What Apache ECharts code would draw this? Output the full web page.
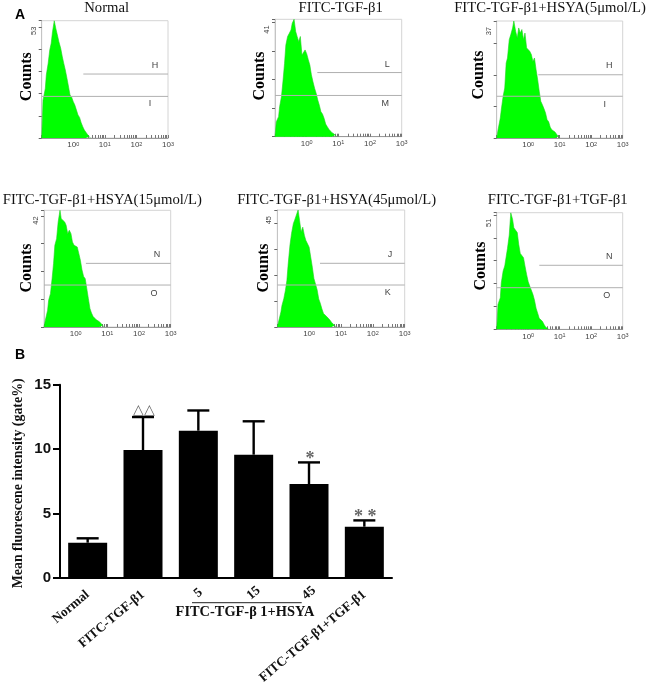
<!DOCTYPE html>
<html><head><meta charset="utf-8">
<style>html,body{margin:0;padding:0;background:#fff}#c{width:666px;height:690px}</style>
<script src="https://cdn.jsdelivr.net/npm/echarts@6/dist/echarts.min.js"></script>
</head><body><div id="c"></div>
<script>
// ---------- data ----------
const bins = [0.10,0.11,0.13,0.14,0.16,0.18,0.20,0.22,0.25,0.28,0.32,0.35,0.40,0.45,0.50,0.56,0.63,0.71,0.79,0.89,1.00,1.12,1.26,1.41,1.58,1.78,2.00,2.24,2.51,2.82,3.16,3.55,3.98,4.47,5.01,5.62,6.31,7.08,7.94,8.91,10.0];
const countsNormal = [0,17,22.4,28.5,33.7,39.8,42.8,48,53,49.5,46,43.5,40.5,36.7,33.7,30.7,27,23,19.4,18.4,16.4,14.9,12.6,10.4,9.3,6.9,5.1,3.6,2.6,1.7,0.6,0];
const countsTgf = [0,5.2,7,10.5,14,19.8,25.6,32,35,36,37.3,39.6,41,36.7,35,33.2,35,28.5,29,30.3,29,27,25,21.6,19.2,16.9,15.1,12.8,11,8.7,7.9,6.4,4.4,3.5,2.6,2.1,1.4,0.8,0.6,0];
const countsHsya5 = [0,2.5,6.3,9,13.2,15.8,23.7,25.3,31.1,32.7,34.8,37,33.7,31.6,34.8,33.2,34.3,31.1,33.2,28.5,29,27.4,26.4,24.2,25.3,21.6,18.4,14.8,11.6,10.5,9.3,7.9,5.8,5.1,3.4,2.6,3,1.9,1.5,0.5,0];
const countsHsya15 = [0,2.4,6,9.6,12,17.4,22.8,29.4,31.8,37.8,42,39,38.4,37.8,36.6,33.6,34.8,33.6,30.6,29.4,29.8,28.8,26.4,24,20.6,18.2,17.4,13.9,10.3,6.7,5,3.8,3.1,2.6,2.5,1.9,1.2,0.6,0];
const countsHsya45 = [0,0.6,5.8,8.3,10.9,14.1,17.9,24.3,31.5,36,39.8,41.1,41.7,45,41,36.5,38.4,35.2,33.3,32,30.7,26.9,23,18.7,18.7,14.3,10.8,9.1,7,5.2,5.2,4,3.3,2.7,1.8,1.4,0.6,0];
const countsTgfBlock = [0,10.9,13.8,20.4,25.5,27.7,28.1,35.4,41.2,51,48,44.4,44,42.3,37.2,33.2,32.5,31.3,27.7,24,20.8,18.9,18.9,15.3,12.8,9.2,7,4.8,4.1,3.5,2.2,1,0.3,0];
const decadeLabels = [1,10,100,1000];
const minorTicks = [0.1,0.2,0.3,0.4,0.5,0.6,0.7,0.8,0.9,1,2,3,4,5,6,7,8,9,10,20,30,40,50,60,70,80,90,100,200,300,400,500,600,700,800,900,1000];

const barCategories = ['Normal','FITC-TGF-β1','5','15','45','FITC-TGF-β1+TGF-β1'];
const barMeans = [2.74,9.93,11.43,9.57,7.29,3.98];
const barErrorTops = [3.08,12.49,13.0,12.16,8.97,4.47];
const barMarks = ['','△△','','','*','* *'];

// ---------- panel layout ----------
const panels = [
 {title:'Normal',tx:106.7,ty:8,box:[41.7,20.7,126.3,117.3],max:53,counts:countsNormal,hi:28.9,lo:18.8,start:2.08,cx:26.7,cy:76.7,letters:[['H',155,65.7],['I',150,104]]},
 {title:'FITC-TGF-β1',tx:340.7,ty:8,box:[275,19.3,126.7,117.4],max:41,counts:countsTgf,hi:22.4,lo:14.4,start:2.17,cx:260,cy:76,letters:[['L',387.3,64.3],['M',385.3,103.3]]},
 {title:'FITC-TGF-β1+HSYA(5μmol/L)',tx:550,ty:8.5,box:[496.7,21,126,117],max:37,counts:countsHsya5,hi:20,lo:13.2,start:2.09,cx:479.3,cy:75,letters:[['H',609.3,66],['I',604.7,104.3]]},
 {title:'FITC-TGF-β1+HSYA(15μmol/L)',tx:102.3,ty:199.7,box:[44,210.3,126.7,116.7],max:42,counts:countsHsya15,hi:22.9,lo:15.1,start:2.1,cx:27.3,cy:268,letters:[['N',157,255],['O',154,293.7]]},
 {title:'FITC-TGF-β1+HSYA(45μmol/L)',tx:336.7,ty:200,box:[277.3,210,127.4,117],max:45,counts:countsHsya45,hi:24.5,lo:16.15,start:2.19,cx:264,cy:268,letters:[['J',390,255],['K',387.7,293]]},
 {title:'FITC-TGF-β1+TGF-β1',tx:557.7,ty:199.7,box:[496.7,212.7,126,116.6],max:51,counts:countsTgfBlock,hi:28,lo:18.2,start:2.25,cx:481,cy:266,letters:[['N',609.3,257],['O',606.7,295.7]]}
];

const serif = '"Liberation Serif","DejaVu Serif",serif';
const sans = '"Liberation Sans",Arial,sans-serif';
const option = {animation:false,backgroundColor:'#fff',title:[],grid:[],xAxis:[],yAxis:[],series:[],graphic:[]};

panels.forEach((p,i)=>{
  const [l,t,w,h]=p.box;
  const shiftUp=Math.max(0,(t+h/2-p.cy)*2);
  option.title.push({text:p.title,left:p.tx,top:p.ty,padding:0,textAlign:'center',textVerticalAlign:'middle',
    textStyle:{fontFamily:serif,fontWeight:'normal',fontSize:14.7,color:'#111'}});
  option.grid.push({left:l,top:t,width:w,height:h,show:true,borderColor:'#d4d4d4',borderWidth:1,backgroundColor:'transparent'});
  option.xAxis.push({type:'log',logBase:10,min:0.1,max:1000,gridIndex:i,
    axisLine:{show:true,lineStyle:{color:'#9a9a9a',width:1}},
    splitLine:{show:false},minorSplitLine:{show:false},
    axisTick:{show:true,inside:true,length:3,customValues:minorTicks,lineStyle:{color:'#777',width:1}},
    axisLabel:{show:true,customValues:decadeLabels,margin:3,color:'#444',fontFamily:sans,fontSize:8,
      formatter:v=>'10{s|'+Math.round(Math.log10(v))+'}',
      rich:{s:{fontSize:5.5,verticalAlign:'top',lineHeight:8,color:'#444',fontFamily:sans,padding:[0,0,4,0]}}}});
  option.yAxis.push({type:'value',min:0,max:p.max,interval:10,gridIndex:i,
    name:'Counts',nameLocation:'middle',nameGap:l-p.cx-8,nameRotate:90,nameMoveOverlap:false,
    nameTextStyle:{fontFamily:serif,fontWeight:'bold',fontSize:16,color:'#000',padding:[0,0,0,shiftUp]},
    axisLine:{show:true,lineStyle:{color:'#c4c4c4',width:1}},
    axisTick:{show:true,length:3,lineStyle:{color:'#666',width:1}},splitLine:{show:false},
    axisLabel:{margin:8,rotate:90,align:'right',verticalAlign:'middle',padding:[0,6,0,0],fontSize:7.5,fontFamily:sans,color:'#444',
      formatter:v=>v===p.max?String(v):''}});
  option.series.push({type:'line',xAxisIndex:i,yAxisIndex:i,symbol:'none',silent:true,z:2,
    data:p.counts.map((c,k)=>[bins[k],c]),
    lineStyle:{color:'#22d022',width:0.6},areaStyle:{color:'#00ff00',opacity:1},itemStyle:{color:'#00ff00'}});
  [[p.start,p.hi],[0.1,p.lo]].forEach(([s,y])=>{
    option.series.push({type:'line',xAxisIndex:i,yAxisIndex:i,symbol:'none',silent:true,z:3,
      data:[[s,y],[1000,y]],lineStyle:{color:'#b0b0b0',width:1}});
  });
  p.letters.forEach(([txt,x,y])=>{
    option.graphic.push({type:'text',x:x,y:y,silent:true,z:5,
      style:{text:txt,fontFamily:sans,fontSize:9,fill:'#444',align:'center',verticalAlign:'middle'}});
  });
});

// ---------- bar panel ----------
const bi = panels.length;
option.grid.push({left:60,top:384.7,width:332,height:193.3});
option.xAxis.push({type:'category',gridIndex:bi,
  data:barCategories.map(c=>c.length<3?{value:c,textStyle:{align:'center'}}:c),
  axisLine:{lineStyle:{color:'#000',width:2}},
  axisTick:{alignWithLabel:true,length:7,lineStyle:{color:'#000',width:2}},
  axisLabel:{interval:0,rotate:40,margin:15,fontFamily:serif,fontWeight:'bold',fontSize:13.3,color:'#111'}});
option.yAxis.push({type:'value',min:0,max:15,interval:5,gridIndex:bi,
  name:'Mean fluorescene intensity (gate%)',nameLocation:'middle',nameGap:34.7,nameRotate:90,nameMoveOverlap:false,
  nameTextStyle:{fontFamily:serif,fontWeight:'bold',fontSize:13.9,color:'#111',padding:[0,4,0,0]},
  axisLine:{show:true,lineStyle:{color:'#000',width:2}},
  axisTick:{show:true,length:7,lineStyle:{color:'#000',width:2}},splitLine:{show:false},
  axisLabel:{margin:9,fontFamily:sans,fontWeight:'bold',fontSize:15,color:'#111'}});
option.series.push({type:'bar',xAxisIndex:bi,yAxisIndex:bi,barWidth:39,data:barMeans,
  itemStyle:{color:'#000'},z:3});
option.series.push({type:'custom',xAxisIndex:bi,yAxisIndex:bi,z:2,
  data:barMeans.map((m,k)=>[k,m,barErrorTops[k],barMarks[k]]),
  encode:{x:0,y:[1,2]},
  renderItem:(params,api)=>{
    const k=api.value(0);
    const a=api.coord([k,api.value(1)]), b=api.coord([k,api.value(2)]);
    const st={stroke:'#000',lineWidth:2.4};
    const mark=barMarks[k];
    const tri=mark==='△△';
    const kids=[
      {type:'line',shape:{x1:a[0],y1:a[1],x2:b[0],y2:b[1]},style:st},
      {type:'line',shape:{x1:a[0]-11,y1:b[1],x2:a[0]+11,y2:b[1]},style:st}];
    if(mark) kids.push({type:'text',style:{text:mark,x:a[0]+1,y:b[1]+(tri?0:5.5),align:'center',verticalAlign:'bottom',
      fontFamily:tri?sans:serif,fontSize:tri?14:18,fontWeight:tri?'normal':'bold',fill:'#666'}});
    return {type:'group',children:kids};
  }});

// bracket and panel letters
option.graphic.push(
 {type:'line',silent:true,shape:{x1:192,y1:602.7,x2:301.7,y2:602.7},style:{stroke:'#222',lineWidth:1}},
 {type:'text',silent:true,x:245,y:612.7,style:{text:'FITC-TGF-β 1+HSYA',fontFamily:serif,fontWeight:'bold',fontSize:14.4,fill:'#111',align:'center',verticalAlign:'middle'}},
 {type:'text',silent:true,x:20,y:15,style:{text:'A',fontFamily:sans,fontWeight:'bold',fontSize:14,fill:'#000',align:'center',verticalAlign:'middle'}},
 {type:'text',silent:true,x:20,y:355,style:{text:'B',fontFamily:sans,fontWeight:'bold',fontSize:14,fill:'#000',align:'center',verticalAlign:'middle'}}
);

echarts.init(document.getElementById('c'),null,{renderer:'canvas'}).setOption(option);
</script></body></html>
